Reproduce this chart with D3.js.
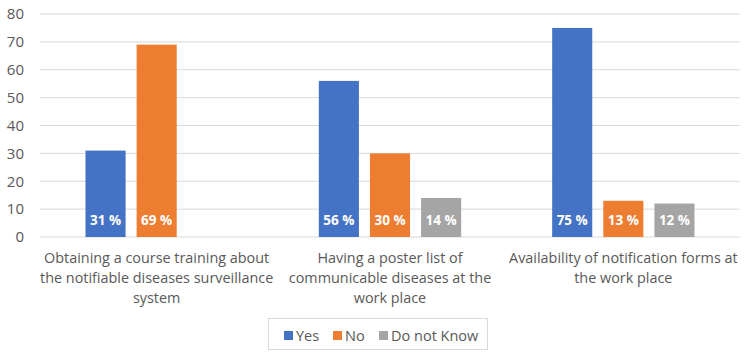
<!DOCTYPE html>
<html>
<head>
<meta charset="utf-8">
<script src="https://cdn.jsdelivr.net/npm/d3@7"></script>
<style>
  body { margin: 0; background: #fff; }
  text { font-family: "Open Sans", sans-serif; }
</style>
</head>
<body>
<svg id="chart"></svg>
<script>
// chart data
const categories = [
    "Obtaining a course training about\nthe notifiable diseases surveillance\nsystem",
    "Having a poster list of\ncommunicable diseases at the\nwork place",
    "Availability of notification forms at\nthe work place"
];
const seriesNames = ["Yes", "No", "Do not Know"];
const yesValues = [31, 56, 75];
const noValues = [69, 30, 13];
const dontKnowValues = [0, 14, 12];
const yTicks = [0, 10, 20, 30, 40, 50, 60, 70, 80];

const colors = { "Yes": "#4472C4", "No": "#ED7D31", "Do not Know": "#A5A5A5" };
const seriesValues = { "Yes": yesValues, "No": noValues, "Do not Know": dontKnowValues };

const width = 750, height = 358;
const margin = { top: 14, right: 10, bottom: 121, left: 40 };

const svg = d3.select('#chart')
    .attr('width', width)
    .attr('height', height);

const xScale = d3.scaleBand()
    .domain(categories)
    .range([margin.left, width - margin.right])
    .paddingInner(0.39)
    .paddingOuter(0.195);

const x1 = d3.scaleBand()
    .domain(seriesNames)
    .range([0, xScale.bandwidth()])
    .paddingInner(0.216);

const yScale = d3.scaleLinear()
    .domain([0, 80])
    .range([height - margin.bottom, margin.top]);

// gridlines
svg.append('g')
    .selectAll('line')
    .data(yTicks)
    .join('line')
    .attr('x1', margin.left)
    .attr('x2', width - margin.right)
    .attr('y1', d => yScale(d))
    .attr('y2', d => yScale(d))
    .attr('stroke', '#d9d9d9')
    .attr('stroke-width', 1);

// y axis
const yAxis = d3.axisLeft(yScale)
    .tickValues(yTicks)
    .tickSize(0)
    .tickPadding(16);

svg.append('g')
    .attr('transform', `translate(${margin.left},0)`)
    .call(yAxis)
    .call(g => g.select('.domain').remove())
    .selectAll('text')
    .attr('fill', '#595959')
    .style('font-size', '15px');

// bars
const rows = categories.map((c, i) => ({
    category: c,
    values: seriesNames.map(s => ({ key: s, value: seriesValues[s][i] }))
}));

const groups = svg.append('g')
    .selectAll('g')
    .data(rows)
    .join('g')
    .attr('transform', d => `translate(${xScale(d.category)},0)`);

groups.selectAll('rect')
    .data(d => d.values)
    .join('rect')
    .attr('x', d => x1(d.key))
    .attr('y', d => yScale(d.value))
    .attr('width', x1.bandwidth())
    .attr('height', d => yScale(0) - yScale(d.value))
    .attr('fill', d => colors[d.key]);

// data labels at bar base
groups.selectAll('text.label')
    .data(d => d.values.filter(v => v.value > 0))
    .join('text')
    .attr('class', 'label')
    .attr('x', d => x1(d.key) + x1.bandwidth() / 2)
    .attr('y', yScale(0) - 12)
    .attr('text-anchor', 'middle')
    .attr('fill', '#fff')
    .style('font-size', '13.5px')
    .style('font-weight', 'bold')
    .text(d => d.value + ' %');

// x axis labels
const xLabels = svg.append('g')
    .selectAll('text')
    .data(categories)
    .join('text')
    .attr('x', d => xScale(d) + xScale.bandwidth() / 2)
    .attr('y', yScale(0) + 26)
    .attr('text-anchor', 'middle')
    .attr('fill', '#595959')
    .style('font-size', '14.4px');

xLabels.selectAll('tspan')
    .data(d => d.split('\n'))
    .join('tspan')
    .attr('x', function () { return d3.select(this.parentNode).attr('x'); })
    .attr('dy', (d, i) => i === 0 ? 0 : 20)
    .text(d => d);

// legend
const legend = svg.append('g');
legend.append('rect')
    .attr('x', 268.5)
    .attr('y', 318.5)
    .attr('width', 219)
    .attr('height', 31)
    .attr('fill', '#fff')
    .attr('stroke', '#d9d9d9');

const legendX = { "Yes": 284, "No": 333, "Do not Know": 379 };
const items = legend.selectAll('g')
    .data(seriesNames)
    .join('g')
    .attr('transform', d => `translate(${legendX[d]},331)`);

items.append('rect')
    .attr('width', 9)
    .attr('height', 9)
    .attr('fill', d => colors[d]);

items.append('text')
    .attr('x', 12)
    .attr('y', 9.5)
    .attr('fill', '#595959')
    .style('font-size', '14.5px')
    .text(d => d);
</script>
</body>
</html>
